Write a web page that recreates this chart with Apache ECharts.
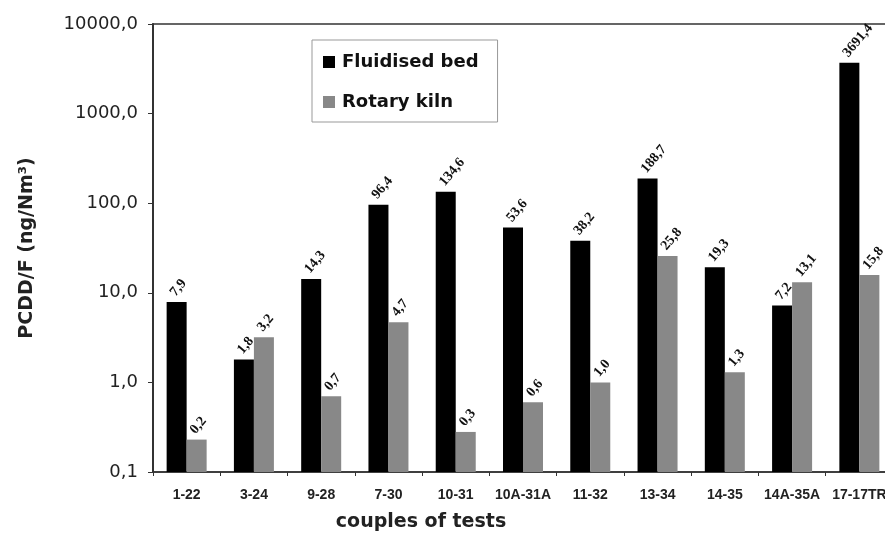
<!DOCTYPE html>
<html>
<head>
<meta charset="utf-8">
<script src="https://cdn.jsdelivr.net/npm/echarts@6/dist/echarts.min.js"></script>
<style>html,body{margin:0;padding:0;background:#fff;}#chart{width:885px;height:536px;}</style>
</head>
<body>
<div id="chart"></div>
<script>
var categories = ['1-22','3-24','9-28','7-30','10-31','10A-31A','11-32','13-34','14-35','14A-35A','17-17TR'];
var fluidisedBed = [7.9, 1.8, 14.3, 96.4, 134.6, 53.6, 38.2, 188.7, 19.3, 7.2, 3691.4];
var rotaryKiln = [0.23, 3.2, 0.7, 4.7, 0.28, 0.6, 1.0, 25.8, 1.3, 13.1, 15.8];
var yTicks = [0.1, 1, 10, 100, 1000, 10000];

function fmt(v){ return Number(v).toFixed(1).replace('.', ','); }

var labelStyle = {
  show: true,
  position: 'top',
  rotate: 50,
  align: 'left',
  verticalAlign: 'middle',
  distance: 12,
  offset: [-6, 0],
  fontFamily: 'Liberation Serif',
  fontWeight: 'bold',
  fontSize: 14,
  color: '#111',
  formatter: function(p){ return fmt(p.value); }
};

var chart = echarts.init(document.getElementById('chart'));
chart.setOption({
  backgroundColor: '#fff',
  animation: false,
  grid: { left: 153, top: 24, width: 740, height: 448, outerBoundsMode: 'none', containLabel: false,
    show: true, borderColor: '#333', borderWidth: 1.5 },
  legend: {
    left: 312, top: 40, orient: 'vertical',
    padding: [12, 19, 10, 11], itemGap: 20,
    borderColor: '#999', borderWidth: 1,
    icon: 'rect', itemWidth: 12, itemHeight: 12,
    textStyle: { fontFamily: 'DejaVu Sans', fontWeight: 'bold', fontSize: 18, color: '#111', lineHeight: 20, padding: [0, 0, 0, 2] },
    data: ['Fluidised bed', 'Rotary kiln']
  },
  xAxis: {
    type: 'category', data: categories,
    name: 'couples of tests', nameLocation: 'middle', nameGap: 41,
    nameTextStyle: { fontFamily: 'DejaVu Sans', fontWeight: 'bold', fontSize: 19, color: '#222', padding: [0, 204, 0, 0] },
    axisLine: { lineStyle: { color: '#333', width: 1.5 } },
    axisTick: { show: true, length: 4, lineStyle: { color: '#333' } },
    axisLabel: { fontFamily: 'Liberation Sans', fontWeight: 'bold', fontSize: 14, color: '#222', margin: 16, interval: 0 }
  },
  yAxis: {
    type: 'log', logBase: 10, min: 0.1, max: 10000, startValue: 0.1,
    name: 'PCDD/F (ng/Nm\u00b3)', nameLocation: 'middle', nameGap: 116,
    nameTextStyle: { fontFamily: 'DejaVu Sans', fontWeight: 'bold', fontSize: 19, color: '#222' },
    axisLine: { show: true, lineStyle: { color: '#333', width: 2 } },
    axisTick: { show: true, length: 5, lineStyle: { color: '#333' } },
    splitLine: { show: false },
    axisLabel: { fontFamily: 'DejaVu Sans', fontSize: 18, color: '#222', margin: 15,
      formatter: function(v){ return fmt(v); } }
  },
  series: [
    { name: 'Fluidised bed', type: 'bar', data: fluidisedBed, barWidth: 20, barGap: '0%',
      itemStyle: { color: '#000' }, label: labelStyle },
    { name: 'Rotary kiln', type: 'bar', data: rotaryKiln, barWidth: 20, barGap: '0%',
      itemStyle: { color: '#888888' }, label: labelStyle }
  ]
});
</script>
</body>
</html>
